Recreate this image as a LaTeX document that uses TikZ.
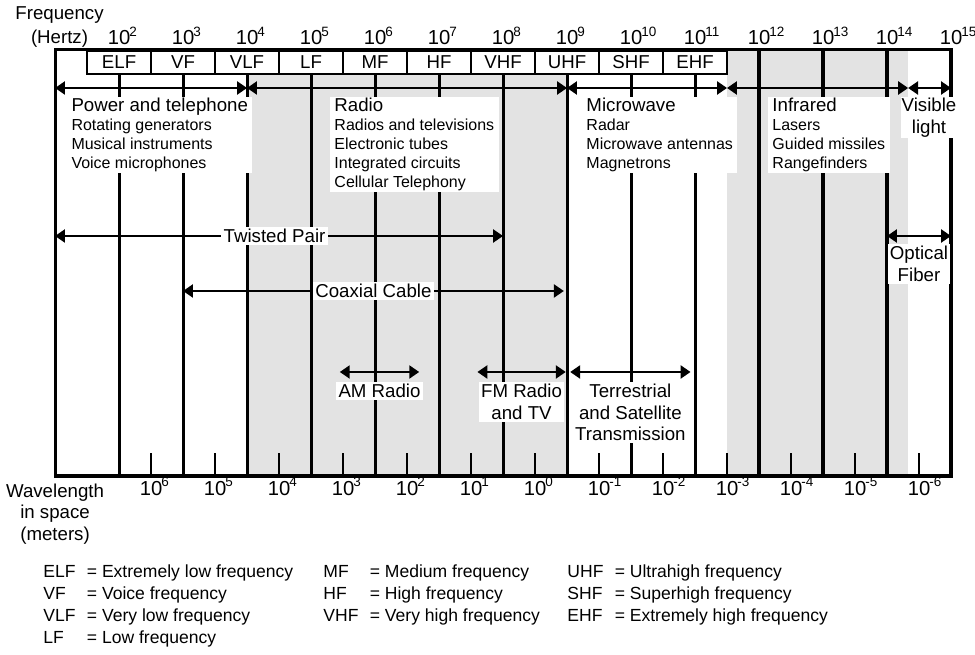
\documentclass[tikz,border=0pt]{standalone}
\usepackage{fontspec}
\setmainfont{Liberation Sans}
\usetikzlibrary{arrows.meta}
\definecolor{bandgray}{HTML}{E3E3E3}
\newcommand{\lbl}{\fontsize{8.3}{9.6}\selectfont}
\newcommand{\sml}{\fontsize{7.1}{8.45}\selectfont}
\newcommand{\leg}{\fontsize{7.8}{9.8}\selectfont}
\newcommand{\num}{\fontsize{9}{10}\selectfont}
\newcommand{\pw}[1]{10\rlap{\kern-0.4pt\raisebox{0.42em}{\fontsize{6}{7}\selectfont #1}}}
\tikzset{
  every picture/.style={>={Triangle[length=4.4pt,width=5.8pt]}},
  major/.style={line width=1.35pt},
  minor/.style={line width=0.9pt},
  span/.style={<->, line width=0.9pt},
  band/.style={draw, line width=0.8pt, fill=white, font=\lbl, anchor=north,
    minimum width=1cm, minimum height=0.36cm, inner sep=0pt},
  note/.style={fill=white, align=left, font=\sml, anchor=north west,
    inner xsep=2pt, inner ysep=0.3pt},
  tag/.style={fill=white, align=center, font=\lbl, inner sep=1pt},
}

\begin{document}
\begin{tikzpicture}
    \useasboundingbox (0.14,0) rectangle (15.375,-10.22);
    % Shaded bands
    \fill[bandgray] (4,-1.141) rectangle (9,-7.4375);
    \fill[bandgray] (11.5,-0.781) rectangle (14.33,-7.4375);
    % Decade lines and half-decade ticks
    \foreach \dec in {2,...,14} {
        \draw[major] (\dec,-0.781) -- (\dec,-7.4375);
        \draw[minor] (\dec+0.5,-7.4375) -- (\dec+0.5,-7.078);
    }
    % Band names
    \foreach \bnd [count=\i from 2] in {ELF,VF,VLF,LF,MF,HF,VHF,UHF,SHF,EHF}
        \node[band] (\bnd) at (\i,-0.781) {\bnd};
    % Frame
    \draw[major] (1,-0.781) rectangle (15,-7.4375);
    % Frequency scale
    \node[font=\lbl, align=center, anchor=north, inner sep=0pt] (freq) at (1.07,-0.094) {Frequency\\[1.2pt](Hertz)};
    \foreach \dec in {2,...,15}
        \node[font=\num, anchor=base] (hz\dec) at (\dec,-0.70) {\pw{\dec}};
    % Wavelength scale
    \node[font=\lbl, align=center, anchor=north, inner sep=0pt] (wave) at (1.0,-7.55) {Wavelength\\in space\\(meters)};
    \foreach \ex [count=\i from 2] in {6,5,...,-6}
        \node[font=\num, anchor=base] (m\i) at (\i+0.5,-7.74) {\pw{\ex}};

    % Top row of spans
    \coordinate (b1) at (1,-1.375);
    \coordinate (b4) at (4,-1.375);
    \coordinate (b9) at (9,-1.375);
    \coordinate (b11) at (11.5,-1.375);
    \coordinate (b14) at (14.33,-1.375);
    \coordinate (b15) at (15,-1.375);
    \draw[span] (b1) -- (b4);
    \draw[span] (b4) -- (b9);
    \draw[span] (b9) -- (b11);
    \draw[span] (b11) -- (b14);
    \draw[span] (b14) -- (b15);
    % Applications
    \node[note] (power) at (1.18,-1.516) {{\lbl Power and telephone}\\Rotating generators\\Musical instruments\\Voice microphones};
    \node[note] (radio) at (5.289,-1.516) {{\lbl Radio}\\Radios and televisions\\Electronic tubes\\Integrated circuits\\Cellular Telephony};
    \node[note] (micro) at (9.227,-1.516) {{\lbl Microwave}\\Radar\\Microwave antennas\\Magnetrons};
    \node[note] (infra) at (12.133,-1.516) {{\lbl Infrared}\\Lasers\\Guided missiles\\Rangefinders};
    \node[tag, anchor=north, inner sep=0.3pt] (light) at (14.656,-1.516) {Visible\\light};

    % Transmission media
    \coordinate (tpL) at (1,-3.6875);
    \coordinate (tpR) at (8,-3.6875);
    \draw[span] (tpL) -- node[tag, pos=0.49] (tp) {Twisted Pair} (tpR);
    \coordinate (cxL) at (3,-4.547);
    \coordinate (cxR) at (8.95,-4.547);
    \draw[span] (cxL) -- node[tag] (cx) {Coaxial Cable} (cxR);
    \coordinate (ofL) at (14,-3.6875);
    \coordinate (ofR) at (15,-3.6875);
    \draw[span] (ofL) -- node[tag, below=3pt] (of) {Optical\\Fiber} (ofR);
    \coordinate (amL) at (5.45,-5.8125);
    \coordinate (amR) at (6.69,-5.8125);
    \draw[span] (amL) -- node[tag, below=4pt] (am) {AM Radio} (amR);
    \coordinate (fmL) at (7.6,-5.8125);
    \coordinate (fmR) at (8.98,-5.8125);
    \draw[span] (fmL) -- node[tag, below=4pt] (fm) {FM Radio\\and TV} (fmR);
    \coordinate (tsL) at (9.05,-5.8125);
    \coordinate (tsR) at (10.93,-5.8125);
    \draw[span] (tsL) -- node[tag, below=4pt] (ts) {Terrestrial\\and Satellite\\Transmission} (tsR);

    % Key
    \node[font=\leg, anchor=base west, inner sep=0pt] (key1) at (0.8125,-9.016) {\begin{tabular}[t]{@{}l@{\hspace{5pt}}l@{}}ELF & = Extremely low frequency\\VF & = Voice frequency\\VLF & = Very low frequency\\LF & = Low frequency\end{tabular}};
    \node[font=\leg, anchor=base west, inner sep=0pt] (key2) at (5.1875,-9.016) {\begin{tabular}[t]{@{}l@{\hspace{5pt}}l@{}}MF & = Medium frequency\\HF & = High frequency\\VHF & = Very high frequency\end{tabular}};
    \node[font=\leg, anchor=base west, inner sep=0pt] (key3) at (9.0,-9.016) {\begin{tabular}[t]{@{}l@{\hspace{5pt}}l@{}}UHF & = Ultrahigh frequency\\SHF & = Superhigh frequency\\EHF & = Extremely high frequency\end{tabular}};
\end{tikzpicture}
\end{document}
